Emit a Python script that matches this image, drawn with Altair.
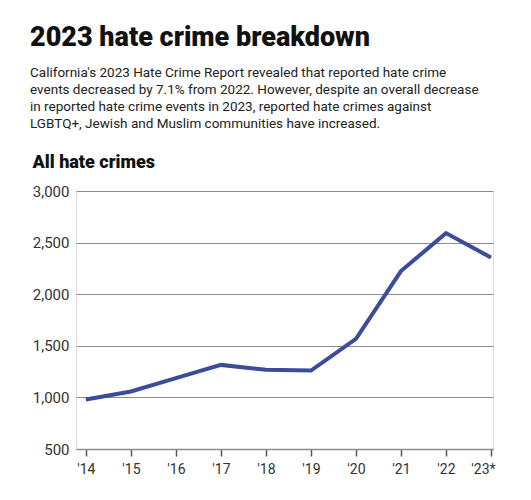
import pandas as pd
import altair as alt

# values
years = [2014, 2015, 2016, 2017, 2018, 2019, 2020, 2021, 2022, 2023]
hate_crimes = [980, 1057, 1187, 1315, 1267, 1260, 1567, 2224, 2592, 2355]
y_ticks = [500, 1000, 1500, 2000, 2500, 3000]

subtitle_lines = [
    "California's 2023 Hate Crime Report revealed that reported hate crime",
    "events decreased by 7.1% from 2022. However, despite an overall decrease",
    "in reported hate crime events in 2023, reported hate crimes against",
    "LGBTQ+, Jewish and Muslim communities have increased.",
]

df = pd.DataFrame({"year": years, "count": hate_crimes})

label_expr = (
    "datum.value == 2023 ? \"'23*\" : \"'\" + substring(toString(datum.value), 2)"
)

HEAD_FONT = "Roboto"

chart = alt.Chart(df).mark_line(
    color="#3a4c9a", strokeWidth=4, strokeJoin="miter"
).encode(
    x=alt.X(
        "year:Q",
        scale=alt.Scale(domain=[2013.78, 2023.045], nice=False, zero=False),
        axis=alt.Axis(
            values=years,
            labelExpr=label_expr,
            title=None,
            grid=False,
            domain=True,
            domainColor="#8c8c8c",
            domainWidth=1.5,
            ticks=True,
            tickColor="#555555",
            tickWidth=1.5,
            tickSize=7,
            labelPadding=6,
            labelFont="Roboto",
            labelFontSize=14,
            labelColor="#333333",
            labelOffset={"condition": {"test": "datum.value == 2023", "value": -8}, "value": 0},
        ),
    ),
    y=alt.Y(
        "count:Q",
        scale=alt.Scale(domain=[500, 3000], nice=False, zero=False),
        axis=alt.Axis(
            values=y_ticks,
            format=",d",
            title="All hate crimes",
            titleAngle=0,
            titleAlign="left",
            titleBaseline="alphabetic",
            titleX=-44,
            titleY=-24,
            titleFont=HEAD_FONT,
            titleFontSize=18,
            titleFontWeight=900,
            titleColor="#111111",
            domain=False,
            ticks=False,
            grid=True,
            gridColor="#8c8c8c",
            gridWidth=1,
            labelPadding=7,
            labelFont="Roboto",
            labelFontSize=15,
            labelColor="#333333",
        ),
    ),
).properties(
    width=417,
    height=258,
    autosize=alt.AutoSizeParams(type="none"),
    padding={"left": 68, "top": 183, "right": 30, "bottom": 40},
    title=alt.TitleParams(
        text="2023 hate crime breakdown",
        subtitle=subtitle_lines,
        anchor="start",
        frame="group",
        dx=-46,
        offset=22,
        font=HEAD_FONT,
        fontSize=27,
        fontWeight=900,
        color="#111111",
        subtitleFont="Roboto",
        subtitleFontSize=13.5,
        subtitleColor="#222222",
        subtitleLineHeight=17,
        subtitlePadding=14,
    ),
).configure_view(
    stroke=None
).configure(
    background="white"
)

chart.save("out.html", embed_options={"renderer": "svg", "actions": False})
